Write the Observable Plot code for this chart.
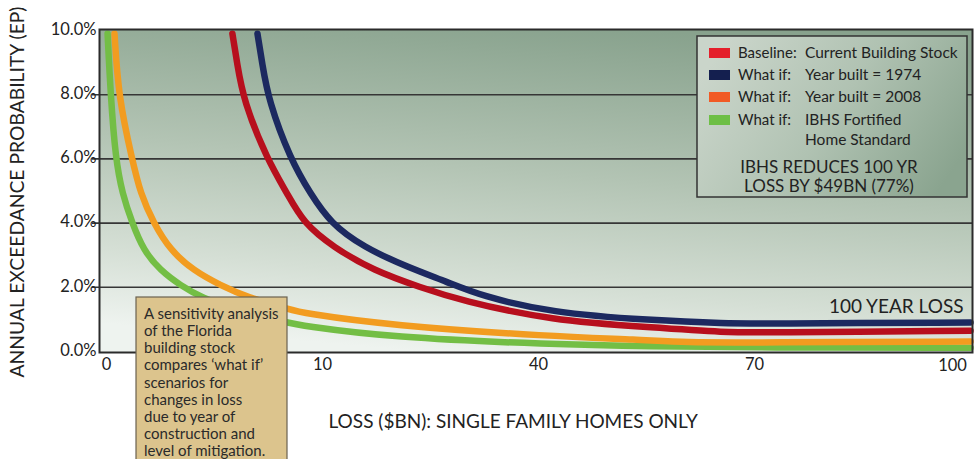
<!DOCTYPE html>
<html><head><meta charset="utf-8">
<script src="https://cdn.jsdelivr.net/npm/d3@7"></script>
<script src="https://cdn.jsdelivr.net/npm/@observablehq/plot@0.6"></script>
<style>body{margin:0;background:#fff;} #chart svg{display:block;}</style>
</head><body><div id="chart"></div>
<script>
// ---- data ----
const xTicks = [0, 10, 40, 70, 100];
const yTicks = [0, 2, 4, 6, 8, 10];
const gridLevels = [2, 4, 6, 8];

const seriesNames = ["What if: IBHS Fortified Home Standard", "What if: Year built = 2008", "Baseline: Current Building Stock", "What if: Year built = 1974"];
const lineColors = ["#73be45", "#f29c20", "#b70f1d", "#1c2960"];

const ibhsLoss = [0.05, 0.19, 0.42, 0.73, 1.19, 1.71, 2.5, 3.43, 4.35, 6.2, 8.38, 8.98, 19.4, 41.7, 55.6, 70.8, 100];
const ibhsEP   = [9.9, 8.0, 6.0, 4.92, 4.0, 3.15, 2.52, 2.06, 1.69, 1.25, 0.9, 0.81, 0.44, 0.22, 0.16, 0.12, 0.12];

const y2008Loss = [0.37, 0.56, 1.19, 1.57, 2.18, 2.96, 4.03, 5.28, 6.51, 8.52, 8.98, 19.4, 41.7, 54.2, 60.1, 70.8, 100];
const y2008EP   = [9.9, 7.9, 5.98, 4.92, 4.0, 3.15, 2.52, 2.06, 1.69, 1.31, 1.21, 0.81, 0.47, 0.37, 0.28, 0.28, 0.31];

const baselineLoss = [5.83, 6.05, 6.34, 7.44, 8.37, 9.12, 11.5, 17.1, 23.6, 29.2, 41.7, 55.6, 66.3, 70.8, 100];
const baselineEP   = [9.9, 8.97, 7.82, 5.98, 4.92, 4.0, 3.25, 2.52, 2.0, 1.59, 0.97, 0.75, 0.59, 0.59, 0.65];

const y1974Loss = [6.99, 7.21, 7.5, 8.52, 9.44, 11.1, 15.7, 21.8, 27.4, 31.9, 41.7, 55.6, 66.3, 70.8, 100];
const y1974EP   = [9.9, 8.97, 7.82, 5.98, 4.92, 4.0, 3.25, 2.63, 2.16, 1.74, 1.21, 0.97, 0.87, 0.87, 0.9];

const legendColors = ["#e41f2b", "#141f4f", "#f15a24", "#6dbf45"];
const legendLabels = [
  ["Baseline:", "Current Building Stock"],
  ["What if:", "Year built = 1974"],
  ["What if:", "Year built = 2008"],
  ["What if:", "IBHS Fortified", "Home Standard"]
];
const legendNote = ["IBHS REDUCES 100 YR", "LOSS BY $49BN (77%)"];
const annotationLines = ["A sensitivity analysis", "of the Florida", "building stock", "compares \u2018what if\u2019", "scenarios for", "changes in loss", "due to year of", "construction and", "level of mitigation."];
const xTitle = "LOSS ($BN): SINGLE FAMILY HOMES ONLY";
const yTitle = "ANNUAL EXCEEDANCE PROBABILITY (EP)";
const refLabel = "100 YEAR LOSS";

// ---- table ----
const rows = [];
[[ibhsLoss, ibhsEP], [y2008Loss, y2008EP], [baselineLoss, baselineEP], [y1974Loss, y1974EP]].forEach(([xs, ys], i) => {
  xs.forEach((x, j) => rows.push({series: seriesNames[i], loss: x, ep: ys[j]}));
});

const FONT = "Lato, 'Open Sans', sans-serif";

function defsMark() {
  const defs = d3.create("svg:defs");
  const g1 = defs.append("linearGradient").attr("id", "plotBg")
    .attr("x1", 0.38).attr("y1", 1).attr("x2", 0.62).attr("y2", 0);
  [[0, "#eef3ef"], [0.22, "#d5dfd5"], [0.55, "#b3c4b4"], [1, "#88a28d"]].forEach(([o, c]) =>
    g1.append("stop").attr("offset", o).attr("stop-color", c));
  const g2 = defs.append("linearGradient").attr("id", "legendBg")
    .attr("x1", 0).attr("y1", 0.3).attr("x2", 1).attr("y2", 0.7);
  [[0, "#cad5ca"], [0.5, "#b0c2b2"], [1, "#8aa48f"]].forEach(([o, c]) =>
    g2.append("stop").attr("offset", o).attr("stop-color", c));
  return defs.node();
}

function legendMark() {
  const g = d3.create("svg:g").attr("font-family", FONT).attr("fill", "#222").attr("text-anchor", "start");
  g.append("rect").attr("x", 697).attr("y", 36).attr("width", 270).attr("height", 161)
    .attr("fill", "url(#legendBg)").attr("stroke", "#333").attr("stroke-width", 1.5);
  const rowY = [53, 75, 97, 120];
  legendLabels.forEach((lab, i) => {
    g.append("rect").attr("x", 709).attr("y", rowY[i] - 5).attr("width", 21).attr("height", 10)
      .attr("fill", legendColors[i]);
    g.append("text").attr("x", 738).attr("y", rowY[i]).attr("dy", "0.35em")
      .attr("font-size", 15).text(lab[0]);
    lab.slice(1).forEach((t, k) => g.append("text").attr("x", 805).attr("y", rowY[i] + k * 20)
      .attr("dy", "0.35em").attr("font-size", 15.5).text(t));
  });
  legendNote.forEach((t, k) => g.append("text").attr("x", 829).attr("y", 167 + k * 19)
    .attr("dy", "0.35em").attr("text-anchor", "middle").attr("font-size", 17).text(t));
  return g.node();
}

function annotationMark() {
  const g = d3.create("svg:g").attr("font-family", FONT).attr("text-anchor", "start");
  g.append("rect").attr("x", 136).attr("y", 297).attr("width", 151).attr("height", 170)
    .attr("fill", "#dcc48d").attr("stroke", "#6a6250").attr("stroke-width", 1.2);
  annotationLines.forEach((t, k) => g.append("text").attr("x", 144).attr("y", 313.5 + k * 17.2)
    .attr("dy", "0.35em").attr("font-size", 15).attr("fill", "#2a2a2a").text(t));
  return g.node();
}

const chart = Plot.plot({
  width: 978, height: 459,
  marginTop: 29, marginBottom: 107, marginLeft: 99, marginRight: 6,
  x: {type: "linear", domain: xTicks, range: [106, 322, 538, 754, 970], axis: null},
  y: {domain: [0, 10], range: [351, 30], axis: null},
  color: {domain: seriesNames, range: lineColors},
  style: {fontFamily: FONT, background: "transparent", overflow: "visible", color: "#222"},
  marks: [
    defsMark,
    Plot.frame({fill: "url(#plotBg)"}),
    Plot.ruleY(gridLevels, {stroke: "#363636", strokeWidth: 1.6, insetLeft: -7}),
    Plot.line(rows, {x: "loss", y: "ep", z: "series", stroke: "series", strokeWidth: 6.5,
      curve: "basis", strokeLinecap: "round", strokeLinejoin: "round"}),
    Plot.frame({stroke: "#2b2b2b", strokeWidth: 2}),
    Plot.text(yTicks, {y: d => d, frameAnchor: "left", textAnchor: "end", dx: -3, dy: -1,
      text: d => d.toFixed(1) + "%", fontSize: 16.5, fill: "#222"}),
    Plot.text(xTicks.slice(0, 4), {x: d => d, frameAnchor: "bottom", textAnchor: "middle", dy: 17, text: d => String(d),
      fontSize: 16.5, fill: "#222"}),
    Plot.text(xTicks.slice(4), {x: d => d, frameAnchor: "bottom", textAnchor: "middle", dy: 18, dx: -18, text: d => String(d),
      fontSize: 16.5, fill: "#222"}),
    Plot.text([refLabel], {x: 100, y: 1, textAnchor: "end", dx: -7, dy: -12, text: d => d,
      fontSize: 19, fill: "#222"}),
    Plot.text([xTitle], {frameAnchor: "bottom-left", textAnchor: "start", dx: 229, dy: 75,
      text: d => d, fontSize: 19, fill: "#222"}),
    Plot.text([yTitle], {frameAnchor: "left", textAnchor: "middle", rotate: -90, dx: -82, dy: 1, text: d => d,
      fontSize: 19.3, fill: "#222"}),
    legendMark,
    annotationMark
  ]
});
document.getElementById("chart").appendChild(chart);
</script>
</body></html>
